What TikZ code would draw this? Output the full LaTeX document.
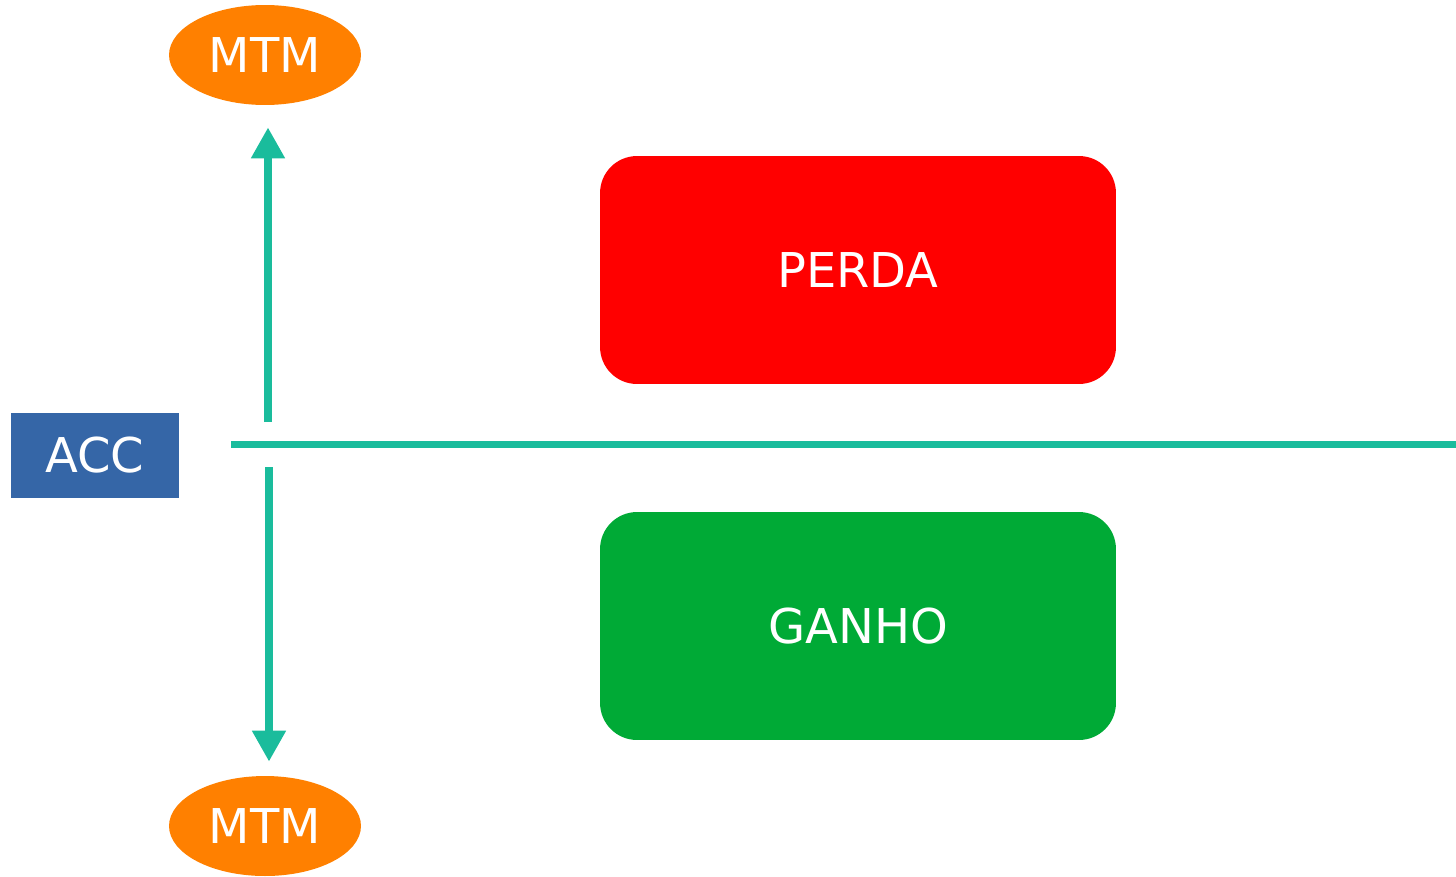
\documentclass[tikz,border=0pt]{standalone}
\usepackage{fontspec}
\setmainfont{DejaVu Sans}
\usepackage{tikz}
\usetikzlibrary{arrows.meta,shapes.geometric}
\definecolor{mtmorange}{HTML}{FF8000}
\definecolor{accblue}{HTML}{3566A7}
\definecolor{perdared}{HTML}{FF0000}
\definecolor{ganhogreen}{HTML}{00AA36}
\definecolor{axisteal}{HTML}{1ABC9C}

\begin{document}
\begin{tikzpicture}[x=0.02cm,y=-0.02cm,
  mtm/.style={ellipse,fill=mtmorange,text=white,inner sep=0pt,minimum width=3.84cm,minimum height=2cm,font=\fontsize{27.3}{30}\selectfont},
  acc/.style={rectangle,fill=accblue,text=white,inner sep=0pt,minimum width=3.36cm,minimum height=1.7cm,font=\fontsize{27.3}{30}\selectfont},
  result/.style={rectangle,rounded corners=0.74cm,text=white,inner sep=0pt,minimum width=10.32cm,minimum height=4.56cm,font=\fontsize{27.3}{30}\selectfont},
  axis/.style={axisteal,line width=0.14cm},
  vec/.style={axisteal,line width=0.16cm,-{Triangle[length=0.62cm,width=0.64cm]}}]
\useasboundingbox (0,0) rectangle (1456,876);
% nodes
\node[mtm] (mtmup) at (265,55) {MTM};
\node[mtm] (mtmdown) at (265,826) {MTM};
\node[acc] (acc) at (95,455.5) {ACC};
\node[result,fill=perdared] (perda) at (858,270) {PERDA};
\node[result,fill=ganhogreen] (ganho) at (858,626) {GANHO};
% axis and arrows
\coordinate (axisstart) at (231,444.5);
\coordinate (axisend) at (1456,444.5);
\coordinate (upstart) at (268,422);
\coordinate (downstart) at (269,467);
\draw[axis] (axisstart) -- (axisend);
\draw[vec,shorten >=22*0.02cm] (upstart) -- (upstart |- mtmup.south);
\draw[vec,shorten >=14*0.02cm] (downstart) -- (downstart |- mtmdown.north);
\end{tikzpicture}
\end{document}
